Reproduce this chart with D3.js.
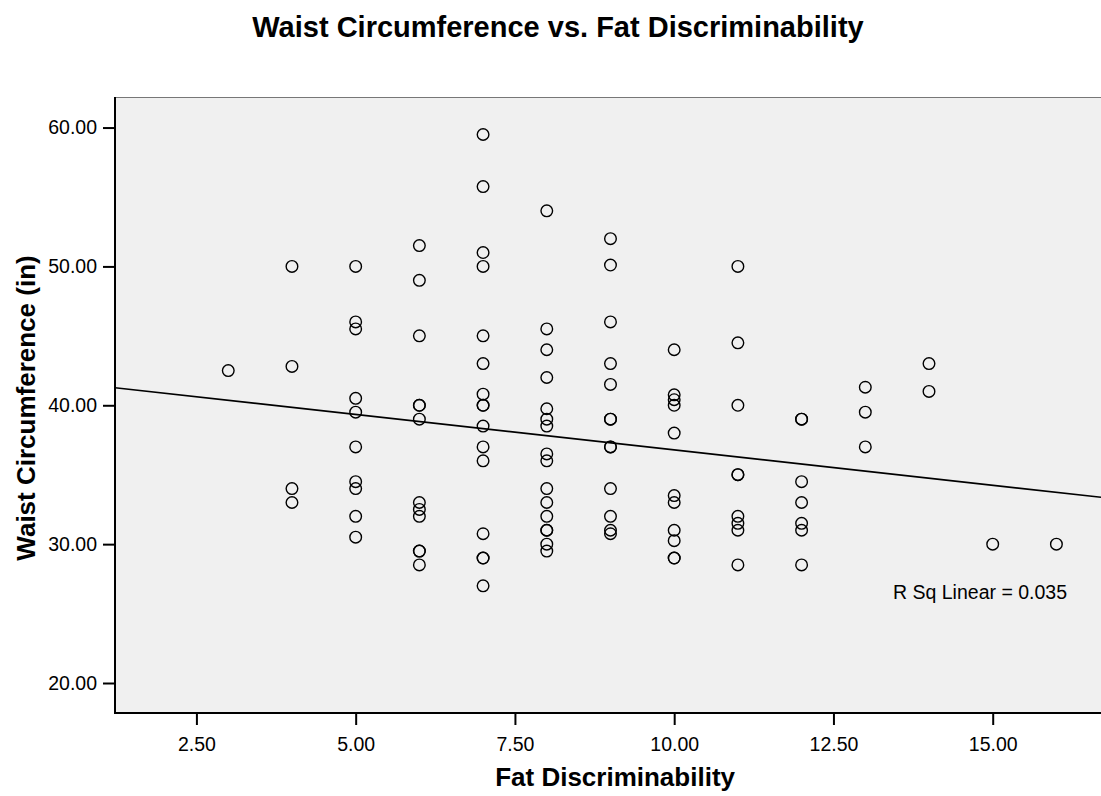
<!DOCTYPE html>
<html>
<head>
<meta charset="utf-8">
<script src="https://cdn.jsdelivr.net/npm/d3@7"></script>
<style>
  html, body { margin: 0; padding: 0; background: #fff; }
  svg { display: block; }
  text { font-family: "Liberation Sans", Arial, Helvetica, sans-serif; fill: #000; }
</style>
</head>
<body>
<svg id="chart" width="1101" height="796"></svg>
<script>
// fat discriminability score for each column of points
const fatLevels = [3, 4, 5, 6, 7, 8, 9, 10, 11, 12, 13, 14, 15, 16]
// waist circumference (in) of the cases at each level, same order as fatLevels
const waistByLevel = [
  [42.5],
  [50, 42.8, 34, 33],
  [50, 46, 45.5, 40.5, 39.5, 37, 34.5, 34, 32, 30.5],
  [51.5, 49, 45, 40, 40, 39, 33, 32.5, 32, 29.5, 29.5, 28.5],
  [59.5, 55.75, 51, 50, 45, 43, 40.8, 40, 40, 38.5, 37, 36, 30.75, 29, 29, 27],
  [54, 45.5, 44, 42, 39.75, 39, 38.5, 36.5, 36, 34, 33, 32, 31, 31, 30, 29.5],
  [52, 50.1, 46, 43, 41.5, 39, 39, 37, 37, 34, 32, 31, 30.75],
  [44, 40.75, 40.4, 40, 38, 33.5, 33, 31, 30.25, 29, 29],
  [50, 44.5, 40, 35, 35, 32, 31.5, 31, 28.5],
  [39, 39, 34.5, 33, 31.5, 31, 28.5],
  [41.3, 39.5, 37],
  [43, 41],
  [30],
  [30]
]
const xTicks = [2.5, 5, 7.5, 10, 12.5, 15]
const yTicks = [20, 30, 40, 50, 60]
// linear fit as drawn in the reference
const fitIntercept = 41.89
const fitSlope = -0.51
const rSquared = 0.035

const points = []
fatLevels.forEach((lv, i) => {
  waistByLevel[i].forEach(w => points.push({ x: lv, y: w }))
})

const svg = d3.select('#chart')
const margin = { left: 115, top: 97, right: 0, bottom: 83 }
const W = 1101, H = 796

const x = d3.scaleLinear().domain([1.222, 16.70]).range([margin.left, W - margin.right])
const y = d3.scaleLinear().domain([17.84, 62.2]).range([H - margin.bottom, margin.top])

// title
svg.append('text')
  .attr('x', 558).attr('y', 37)
  .attr('text-anchor', 'middle')
  .style('font-size', '29px').style('font-weight', 'bold')
  .text('Waist Circumference vs. Fat Discriminability')

// plot background
svg.append('rect')
  .attr('x', margin.left).attr('y', margin.top)
  .attr('width', W - margin.right - margin.left)
  .attr('height', H - margin.bottom - margin.top)
  .attr('fill', '#f0f0f0')

svg.append('line')
  .attr('x1', margin.left).attr('x2', W)
  .attr('y1', margin.top + 0.5).attr('y2', margin.top + 0.5)
  .attr('stroke', '#777').attr('stroke-width', 1)

svg.append('clipPath').attr('id', 'plotclip')
  .append('rect')
  .attr('x', margin.left).attr('y', margin.top)
  .attr('width', W - margin.right - margin.left)
  .attr('height', H - margin.bottom - margin.top)

const plot = svg.append('g').attr('clip-path', 'url(#plotclip)')

// fit line
const xd = x.domain()
plot.append('line')
  .attr('x1', x(xd[0])).attr('y1', y(fitIntercept + fitSlope * xd[0]))
  .attr('x2', x(xd[1])).attr('y2', y(fitIntercept + fitSlope * xd[1]))
  .attr('stroke', '#000').attr('stroke-width', 1.6)

// points
plot.selectAll('circle')
  .data(points)
  .enter().append('circle')
  .attr('cx', d => x(d.x))
  .attr('cy', d => y(d.y))
  .attr('r', 5.8)
  .attr('fill', 'none')
  .attr('stroke', '#000')
  .attr('stroke-width', 1.4)

// R sq annotation
svg.append('text')
  .attr('x', 1067).attr('y', 599)
  .attr('text-anchor', 'end')
  .style('font-size', '19.5px')
  .text('R Sq Linear = ' + rSquared.toFixed(3))

// axes
const xAxis = svg.append('g')
  .attr('transform', `translate(0,${H - margin.bottom})`)
  .call(d3.axisBottom(x).tickValues(xTicks).tickFormat(d3.format('.2f')).tickSize(12).tickPadding(12))
const yAxis = svg.append('g')
  .attr('transform', `translate(${margin.left},0)`)
  .call(d3.axisLeft(y).tickValues(yTicks).tickFormat(d3.format('.2f')).tickSize(12).tickPadding(6))

;[xAxis, yAxis].forEach(g => {
  g.select('.domain').attr('stroke', '#000').attr('stroke-width', 2)
  g.selectAll('.tick line').attr('stroke', '#000').attr('stroke-width', 2)
  g.selectAll('.tick text').style('font-size', '19.5px').style('font-family', '"Liberation Sans", Arial, sans-serif').attr('fill', '#000')
})
xAxis.select('.domain').attr('d', `M${margin.left},0H${W}`)
yAxis.select('.domain').attr('d', `M0,${margin.top}V${H - margin.bottom + 1}`)

// axis titles
svg.append('text')
  .attr('x', 735).attr('y', 786)
  .attr('text-anchor', 'end')
  .style('font-size', '26px').style('font-weight', 'bold')
  .text('Fat Discriminability')

svg.append('text')
  .attr('transform', `translate(35,408) rotate(-90)`)
  .attr('text-anchor', 'middle')
  .style('font-size', '26px').style('font-weight', 'bold')
  .text('Waist Circumference (in)')
</script>
</body>
</html>
